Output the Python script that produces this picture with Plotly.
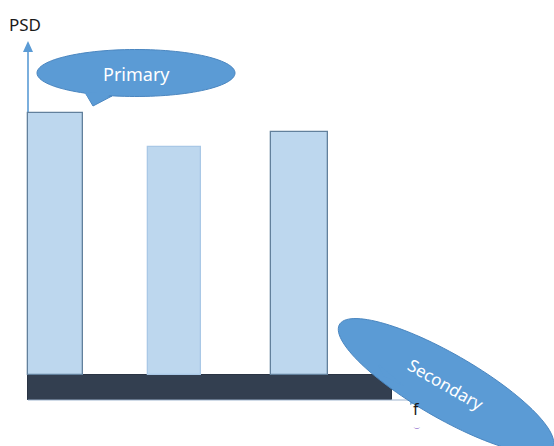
import numpy as np
import plotly.graph_objects as go

# ---- data ----
freq_pos = [55.5, 174.5, 299.5]          # primary tone frequencies (x units)
primary_psd = [262, 228, 243]            # primary PSD heights
secondary_level = 25                     # secondary (noise floor) PSD level
secondary_center = 210
secondary_span = 364

W, H = 554, 446
TOP = 400  # y data value at the top pixel


def Y(py):
    return TOP - py


def ellipse_path(cx, cy, a, b, ang_deg, n=120):
    t = np.linspace(0, 2 * np.pi, n)
    ang = np.deg2rad(ang_deg)
    xs = cx + a * np.cos(t) * np.cos(ang) - b * np.sin(t) * np.sin(ang)
    ys = cy + a * np.cos(t) * np.sin(ang) + b * np.sin(t) * np.cos(ang)
    pts = [f"{x:.2f},{Y(y):.2f}" for x, y in zip(xs, ys)]
    return "M " + " L ".join(pts) + " Z"


def poly_path(pts):
    return "M " + " L ".join(f"{x},{Y(y)}" for x, y in pts) + " Z"


fig = go.Figure()

# secondary band
fig.add_trace(go.Bar(
    x=[secondary_center], y=[secondary_level], base=0, width=[secondary_span],
    marker=dict(color="#333f50", line=dict(color="#2a3444", width=1)),
    hoverinfo="skip", showlegend=False,
))
# primary tones
fig.add_trace(go.Bar(
    x=freq_pos, y=primary_psd, base=secondary_level, width=[55, 53, 57],
    marker=dict(color="#bdd7ee",
                line=dict(color=["#62809c", "#a9c8e6", "#62809c"], width=1.3)),
    hoverinfo="skip", showlegend=False,
))

shapes = []
# y axis line + arrowhead
shapes.append(dict(type="line", x0=28, x1=28, y0=Y(400), y1=Y(50),
                   line=dict(color="#5b9bd5", width=1.6), layer="below"))
shapes.append(dict(type="path", path=poly_path([(23, 52), (33, 52), (28, 41)]),
                   fillcolor="#5b9bd5", line=dict(width=0), layer="above"))
# x axis line + arrowhead
shapes.append(dict(type="line", x0=28, x1=412, y0=Y(400), y1=Y(400),
                   line=dict(color="#9fb6d0", width=1.2), layer="above"))
shapes.append(dict(type="path", path=poly_path([(410, 395), (410, 405), (421, 400)]),
                   fillcolor="#7fafdc", line=dict(width=0), layer="above"))

# Primary callout
shapes.append(dict(type="path", path=poly_path([(86, 94), (112, 96), (93, 106)]),
                   fillcolor="#5b9bd5", line=dict(color="#4a86c0", width=1), layer="above"))
shapes.append(dict(type="path", path=ellipse_path(136, 73, 99, 23.5, 0),
                   fillcolor="#5b9bd5", line=dict(color="#4a86c0", width=1), layer="above"))
shapes.append(dict(type="path", path=poly_path([(84, 92), (114, 93), (93, 104)]),
                   fillcolor="#5b9bd5", line=dict(width=0), layer="above"))

# Secondary callout
shapes.append(dict(type="path", path=poly_path([(372, 364), (381, 378), (402, 389)]),
                   fillcolor="#5b9bd5", line=dict(color="#4a86c0", width=1), layer="above"))
shapes.append(dict(type="path", path=ellipse_path(446, 386, 123, 32, 30),
                   fillcolor="#5b9bd5", line=dict(color="#4a86c0", width=1), layer="above"))
shapes.append(dict(type="path", path=poly_path([(378, 364), (383, 376), (404, 386)]),
                   fillcolor="#5b9bd5", line=dict(width=0), layer="above"))

annotations = [
    dict(x=7, y=Y(24), text="PSD", showarrow=False, xanchor="left", yanchor="middle",
         font=dict(family="Noto Sans", size=17, color="#1a1a1a")),
    dict(x=136, y=Y(74), text="Primary", showarrow=False, xanchor="center", yanchor="middle",
         font=dict(family="Noto Sans", size=18, color="#ffffff")),
    dict(x=446, y=Y(384), text="Secondary", showarrow=False, xanchor="center", yanchor="middle",
         textangle=30, font=dict(family="Noto Sans", size=17, color="#ffffff")),
    dict(x=416, y=Y(409), text="f", showarrow=False, xanchor="center", yanchor="middle",
         font=dict(family="Noto Sans", size=16, color="#1a1a1a")),
    dict(x=416, y=Y(425), text="‿", showarrow=False, xanchor="center", yanchor="middle",
         font=dict(family="DejaVu Sans", size=7, color="#7040c0")),
]

fig.update_layout(
    width=W, height=H, autosize=False,
    margin=dict(l=0, r=0, t=0, b=0),
    paper_bgcolor="white", plot_bgcolor="white",
    xaxis=dict(range=[0, W], visible=False, fixedrange=True),
    yaxis=dict(range=[TOP - H, TOP], visible=False, fixedrange=True),
    shapes=shapes, annotations=annotations,
    bargap=0, barmode="overlay",
)

fig.write_html("out.html", config={"displayModeBar": False})

# remove default page margin so the figure fills the window
with open("out.html", "r", encoding="utf-8") as fh:
    html = fh.read()
html = html.replace("<head>", "<head><style>html,body{margin:0;padding:0;overflow:hidden;}</style>", 1)
with open("out.html", "w", encoding="utf-8") as fh:
    fh.write(html)
